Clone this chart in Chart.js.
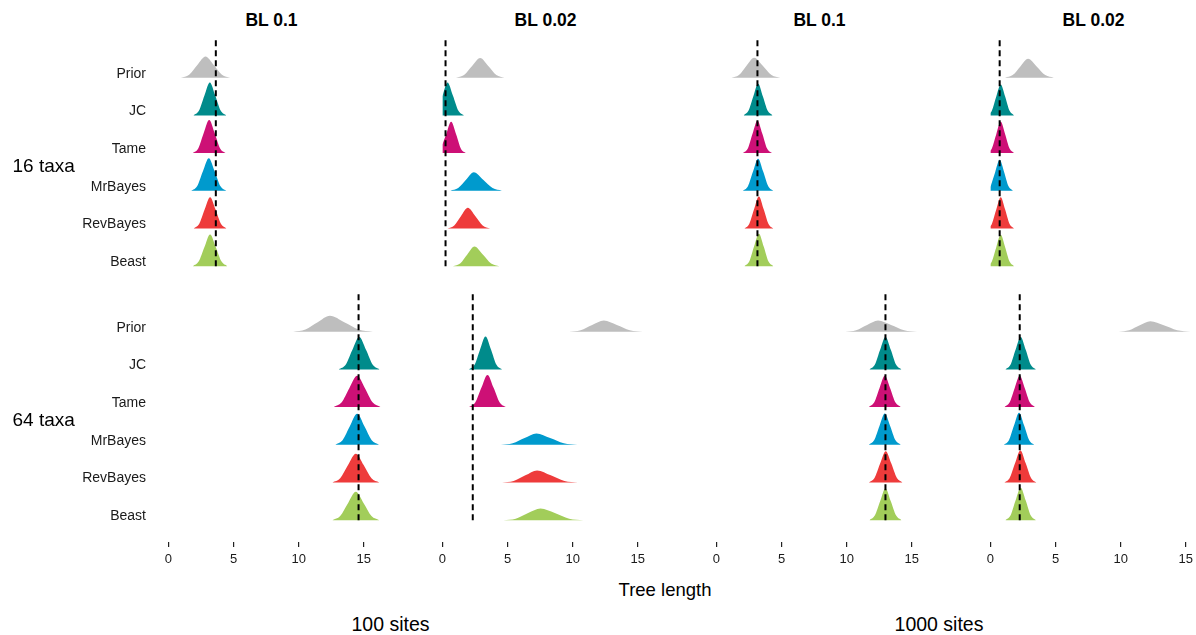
<!DOCTYPE html>
<html><head><meta charset="utf-8">
<script src="https://cdn.jsdelivr.net/npm/chart.js@4"></script>
<style>
html,body{margin:0;padding:0;background:#fff;overflow:hidden;width:1196px;height:635px;}
body{position:relative;font-family:"Liberation Sans",Arial,sans-serif;color:#000;}
.box{position:absolute;}
.txt{position:absolute;white-space:nowrap;line-height:1;}
</style></head><body>
<script>
// ---------- DATA ----------
const categories = ['Prior','JC','Tame','MrBayes','RevBayes','Beast'];
const panelTitles = ['BL 0.1','BL 0.02','BL 0.1','BL 0.02'];
const rowLabels = ['16 taxa','64 taxa'];
const siteLabels = ['100 sites','1000 sites'];
const xAxisTitle = 'Tree length';
const xTicks = [0,5,10,15];

// true tree length (dashed line) per panel
const trueLength16 = [3.64, 0.24, 3.15, 0.71];
const trueLength64 = [14.6, 2.33, 12.98, 2.25];

// density curves: per category, list of [tree length, density height]
const dens16_p1 = [
  [[0.96,0],[1.59,0.08],[2.22,0.34],[2.85,0.565],[3.48,0.34],[4.11,0.08],[4.74,0]],
  [[1.92,0],[2.34,0.12],[2.76,0.52],[3.18,0.87],[3.6,0.52],[4.02,0.12],[4.44,0]],
  [[1.87,0],[2.29,0.12],[2.71,0.53],[3.13,0.875],[3.55,0.53],[3.97,0.12],[4.39,0]],
  [[1.75,0],[2.2,0.12],[2.65,0.52],[3.1,0.865],[3.55,0.52],[4.0,0.12],[4.45,0]],
  [[1.94,0],[2.36,0.12],[2.78,0.5],[3.2,0.83],[3.62,0.5],[4.04,0.12],[4.46,0]],
  [[1.88,0],[2.32,0.12],[2.76,0.5],[3.2,0.84],[3.64,0.5],[4.08,0.12],[4.52,0]]
];
const dens16_p2 = [
  [[1.04,0],[1.66,0.07],[2.28,0.31],[2.9,0.52],[3.52,0.31],[4.14,0.07],[4.76,0]],
  [[0,0.51],[0.39,0.87],[0.81,0.52],[1.23,0.12],[1.65,0]],
  [[0,0.23],[0.29,0.5],[0.67,0.83],[1.05,0.5],[1.43,0.11],[1.81,0]],
  [[0.61,0],[1.21,0.07],[1.81,0.29],[2.41,0.49],[3.13,0.29],[3.85,0.07],[4.57,0]],
  [[0.39,0],[0.91,0.08],[1.43,0.33],[1.95,0.55],[2.52,0.33],[3.09,0.08],[3.66,0]],
  [[0.81,0],[1.36,0.07],[1.91,0.31],[2.46,0.52],[3.1,0.31],[3.74,0.07],[4.38,0]]
];
const dens16_p3 = [
  [[1.15,0],[1.73,0.07],[2.31,0.32],[2.89,0.53],[3.56,0.32],[4.23,0.07],[4.9,0]],
  [[2.09,0],[2.46,0.12],[2.83,0.5],[3.2,0.84],[3.57,0.5],[3.94,0.12],[4.31,0]],
  [[2.04,0],[2.41,0.12],[2.78,0.52],[3.15,0.86],[3.52,0.52],[3.89,0.12],[4.26,0]],
  [[2.03,0],[2.42,0.12],[2.81,0.51],[3.2,0.85],[3.59,0.51],[3.98,0.12],[4.37,0]],
  [[2.15,0],[2.52,0.12],[2.89,0.51],[3.26,0.85],[3.63,0.51],[4.0,0.12],[4.37,0]],
  [[2.15,0],[2.52,0.12],[2.89,0.52],[3.26,0.86],[3.63,0.52],[4.0,0.12],[4.37,0]]
];
const dens16_p4 = [
  [[1.12,0],[1.71,0.07],[2.3,0.3],[2.89,0.5],[3.55,0.3],[4.21,0.07],[4.87,0]],
  [[0,0.06],[0.11,0.12],[0.45,0.5],[0.79,0.82],[1.13,0.5],[1.47,0.12],[1.81,0]],
  [[0,0.06],[0.11,0.12],[0.45,0.5],[0.79,0.83],[1.13,0.5],[1.47,0.12],[1.81,0]],
  [[0,0.1],[0.37,0.5],[0.71,0.82],[1.05,0.5],[1.39,0.12],[1.73,0]],
  [[0,0.06],[0.11,0.12],[0.45,0.5],[0.79,0.83],[1.13,0.5],[1.47,0.12],[1.81,0]],
  [[0,0.06],[0.11,0.12],[0.45,0.5],[0.79,0.83],[1.13,0.5],[1.47,0.12],[1.81,0]]
];
const dens64_p1 = [
  [[9.58,0],[10.52,0.06],[11.46,0.25],[12.4,0.42],[13.5,0.25],[14.6,0.06],[15.7,0]],
  [[13.09,0],[13.61,0.12],[14.13,0.52],[14.65,0.86],[15.17,0.52],[15.69,0.12],[16.21,0]],
  [[12.69,0],[13.29,0.12],[13.89,0.5],[14.49,0.83],[15.09,0.5],[15.69,0.12],[16.29,0]],
  [[12.81,0],[13.37,0.12],[13.93,0.49],[14.49,0.82],[15.05,0.49],[15.61,0.12],[16.17,0]],
  [[12.59,0],[13.19,0.11],[13.79,0.46],[14.39,0.76],[14.99,0.46],[15.59,0.11],[16.19,0]],
  [[12.59,0],[13.19,0.11],[13.79,0.45],[14.39,0.75],[14.99,0.45],[15.59,0.11],[16.19,0]]
];
const dens64_p2 = [
  [[9.72,0],[10.61,0.04],[11.5,0.18],[12.39,0.3],[13.39,0.18],[14.39,0.04],[15.39,0]],
  [[2.05,0],[2.47,0.12],[2.89,0.53],[3.31,0.875],[3.73,0.53],[4.15,0.12],[4.57,0]],
  [[2.05,0],[2.52,0.12],[2.99,0.51],[3.46,0.85],[3.93,0.51],[4.4,0.12],[4.87,0]],
  [[4.49,0],[5.4,0.04],[6.31,0.18],[7.22,0.3],[8.27,0.18],[9.32,0.04],[10.37,0]],
  [[4.57,0],[5.47,0.04],[6.37,0.19],[7.27,0.32],[8.32,0.19],[9.37,0.04],[10.42,0]],
  [[4.68,0],[5.63,0.04],[6.58,0.19],[7.53,0.31],[8.63,0.19],[9.73,0.04],[10.83,0]]
];
const dens64_p3 = [
  [[9.89,0],[10.73,0.04],[11.57,0.18],[12.41,0.3],[13.41,0.18],[14.41,0.04],[15.41,0]],
  [[11.75,0],[12.16,0.12],[12.57,0.52],[12.98,0.86],[13.39,0.52],[13.8,0.12],[14.21,0]],
  [[11.7,0],[12.11,0.12],[12.52,0.5],[12.93,0.83],[13.34,0.5],[13.75,0.12],[14.16,0]],
  [[11.7,0],[12.11,0.12],[12.52,0.5],[12.93,0.83],[13.34,0.5],[13.75,0.12],[14.16,0]],
  [[11.71,0],[12.14,0.12],[12.57,0.5],[13.0,0.83],[13.43,0.5],[13.86,0.12],[14.29,0]],
  [[11.75,0],[12.16,0.12],[12.57,0.5],[12.98,0.84],[13.39,0.5],[13.8,0.12],[14.21,0]]
];
const dens64_p4 = [
  [[9.85,0],[10.66,0.04],[11.47,0.17],[12.28,0.28],[13.31,0.17],[14.34,0.04],[15.37,0]],
  [[1.15,0],[1.54,0.12],[1.93,0.52],[2.32,0.86],[2.71,0.52],[3.1,0.12],[3.49,0]],
  [[1.08,0],[1.47,0.12],[1.86,0.5],[2.25,0.83],[2.64,0.5],[3.03,0.12],[3.42,0]],
  [[1.03,0],[1.42,0.12],[1.81,0.51],[2.2,0.85],[2.59,0.51],[2.98,0.12],[3.37,0]],
  [[1.07,0],[1.48,0.12],[1.89,0.51],[2.3,0.85],[2.71,0.51],[3.12,0.12],[3.53,0]],
  [[1.15,0],[1.54,0.12],[1.93,0.52],[2.32,0.86],[2.71,0.52],[3.1,0.12],[3.49,0]]
];

// ---------- STYLE / LAYOUT ----------
const colors = ['#BEBEBE','#008B8B','#CD1076','#009ACD','#EE3B3B','#A2CD5A'];
const FONT = '"Liberation Sans", Arial, sans-serif';
const X_MIN = -0.8, X_MAX = 16.63;
const Y_MIN = -0.58, Y_MAX = 6;
const COL_LEFT = [158, 432, 706, 980];
const AREA_W = 227;
const ROW_TOP = [40, 294];
const AREA_H = 248;
const XAXIS_H = 30;
const YAXIS_W = 158;

const densRows = [[dens16_p1, dens16_p2, dens16_p3, dens16_p4],
                  [dens64_p1, dens64_p2, dens64_p3, dens64_p4]];
const truthRows = [trueLength16, trueLength64];
const nCat = categories.length;

function addText(str, x, y, size, opts) {
  const d = document.createElement('div');
  d.className = 'txt';
  d.textContent = str;
  d.style.fontSize = size + 'px';
  d.style.left = x + 'px';
  d.style.top = y + 'px';
  d.style.fontWeight = (opts && opts.bold) ? 'bold' : 'normal';
  d.style.transform = (opts && opts.leftAlign) ? 'translate(0,-50%)' : 'translate(-50%,-50%)';
  document.body.appendChild(d);
}

function zeroPad(s) { s.paddingTop = 0; s.paddingBottom = 0; s.paddingLeft = 0; s.paddingRight = 0; }

function makePanel(row, col) {
  const box = document.createElement('div');
  box.className = 'box';
  const showX = row === 1, showY = col === 0;
  const left = showY ? 0 : COL_LEFT[col];
  const width = showY ? COL_LEFT[0] + AREA_W : AREA_W;
  const height = AREA_H + (showX ? XAXIS_H : 0);
  box.style.left = left + 'px';
  box.style.top = ROW_TOP[row] + 'px';
  box.style.width = width + 'px';
  box.style.height = height + 'px';
  const cv = document.createElement('canvas');
  box.appendChild(cv);
  document.body.appendChild(box);

  const curves = densRows[row][col];
  const truth = truthRows[row][col];
  const datasets = [{
    data: [{x: truth, y: 0}, {x: truth, y: nCat}],
    borderColor: '#000', borderWidth: 2, borderDash: [6, 4],
    pointRadius: 0, fill: false, order: 0, tension: 0
  }];
  curves.forEach((pts, i) => {
    const base = nCat - 1 - i;
    datasets.push({
      data: pts.map(p => ({x: p[0], y: base + p[1]})),
      fill: {value: base},
      backgroundColor: colors[i],
      borderColor: 'rgba(0,0,0,0)',
      borderWidth: 0,
      pointRadius: 0,
      cubicInterpolationMode: 'monotone',
      order: 1
    });
  });

  new Chart(cv, {
    type: 'line',
    data: {datasets},
    options: {
      responsive: true, maintainAspectRatio: false, animation: false,
      events: [],
      layout: {padding: 0},
      plugins: {legend: {display: false}, tooltip: {enabled: false}},
      scales: {
        x: {
          type: 'linear', min: X_MIN, max: X_MAX, display: showX,
          afterBuildTicks: s => { s.ticks = xTicks.map(v => ({value: v})); },
          afterFit: s => { if (showX) { s.height = XAXIS_H; } else { s.height = 0; } zeroPad(s); },
          grid: {display: true, drawOnChartArea: false, drawTicks: true, tickLength: 5, color: '#222', lineWidth: 1.2},
          border: {display: false},
          ticks: {font: {family: FONT, size: 13}, color: '#1a1a1a', padding: 5, maxRotation: 0, autoSkip: false}
        },
        y: {
          type: 'linear', min: Y_MIN, max: Y_MAX, display: showY,
          afterBuildTicks: s => { s.ticks = categories.map((c, i) => ({value: nCat - 1 - i})); },
          afterFit: s => { if (showY) { s.width = YAXIS_W; } else { s.width = 0; } zeroPad(s); },
          grid: {display: false, drawTicks: false},
          border: {display: false},
          ticks: {
            callback: v => categories[nCat - 1 - Math.round(v)],
            font: {family: FONT, size: 14}, color: '#1a1a1a', padding: 12, labelOffset: -4, autoSkip: false
          }
        }
      }
    }
  });
}

for (let r = 0; r < 2; r++) for (let c = 0; c < 4; c++) makePanel(r, c);

panelTitles.forEach((t, c) => addText(t, COL_LEFT[c] + 113.5, 20.5, 17.5, {bold: true}));
addText(rowLabels[0], 12.5, 165, 19, {leftAlign: true});
addText(rowLabels[1], 12.5, 419, 19, {leftAlign: true});
addText(xAxisTitle, 665, 590, 18.5);
addText(siteLabels[0], 390.5, 625, 19.5);
addText(siteLabels[1], 939, 625, 19.5);
</script>
</body></html>
